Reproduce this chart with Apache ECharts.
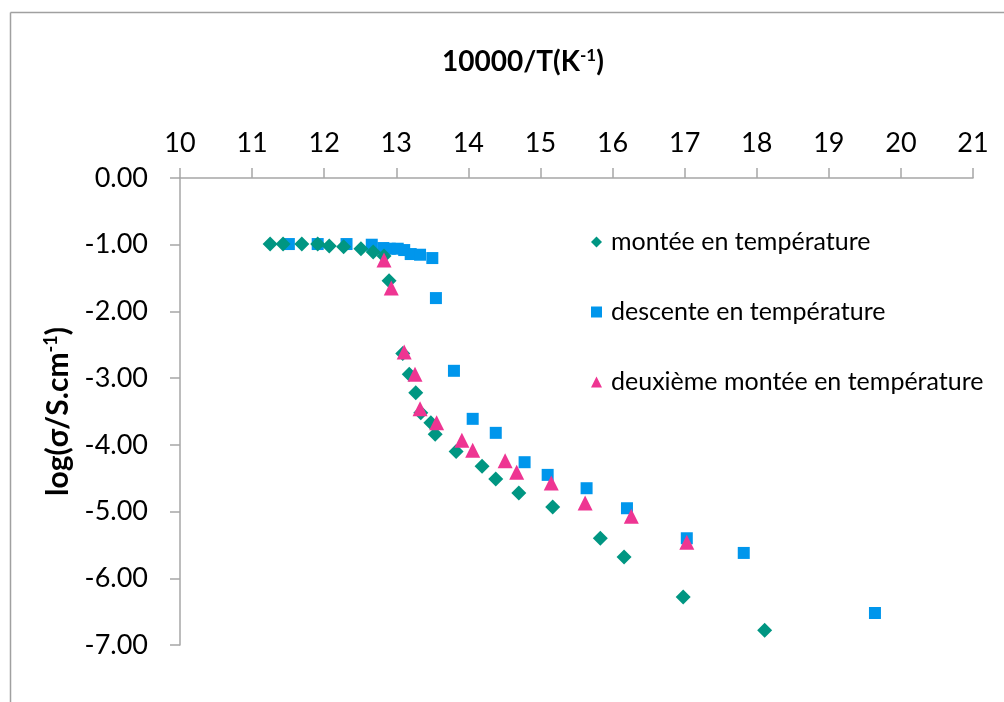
<!DOCTYPE html>
<html>
<head>
<meta charset="utf-8">
<script src="https://cdn.jsdelivr.net/npm/echarts@6/dist/echarts.min.js"></script>
<style>html,body{margin:0;padding:0;background:#fff}#c{width:1004px;height:702px}</style>
</head>
<body>
<div id="c"></div>
<script>
// montée en température (x = 10000/T, y = log sigma)
const monteeX = [11.25, 11.43, 11.69, 11.91, 12.07, 12.27, 12.51, 12.68, 12.83, 12.90, 13.09, 13.18, 13.27, 13.34, 13.48, 13.54, 13.83, 14.19, 14.38, 14.70, 15.17, 15.83, 16.16, 16.98, 18.11];
const monteeY = [-0.99, -0.99, -0.99, -0.99, -1.02, -1.03, -1.06, -1.11, -1.17, -1.54, -2.63, -2.94, -3.22, -3.52, -3.67, -3.84, -4.10, -4.32, -4.51, -4.72, -4.93, -5.40, -5.68, -6.28, -6.78];
// descente en température
const descenteX = [11.51, 11.91, 12.31, 12.66, 12.82, 12.91, 13.02, 13.11, 13.20, 13.33, 13.50, 13.55, 13.80, 14.06, 14.38, 14.78, 15.10, 15.64, 16.20, 17.03, 17.82, 19.64];
const descenteY = [-0.99, -0.99, -0.99, -1.00, -1.05, -1.06, -1.06, -1.08, -1.14, -1.15, -1.20, -1.80, -2.89, -3.61, -3.82, -4.26, -4.45, -4.65, -4.95, -5.40, -5.62, -6.52];
// deuxième montée en température
const deuxiemeX = [12.83, 12.93, 13.11, 13.26, 13.33, 13.56, 13.91, 14.06, 14.51, 14.67, 15.15, 15.62, 16.26, 17.03];
const deuxiemeY = [-1.23, -1.65, -2.61, -2.94, -3.46, -3.67, -3.93, -4.08, -4.24, -4.41, -4.57, -4.87, -5.07, -5.46];

const seriesNames = ['montée en température', 'descente en température', 'deuxième montée en température'];
const xTicks = {min: 10, max: 21, step: 1};
const yTicks = {min: -7, max: 0, step: 1};

const zip = (xs, ys) => xs.map((x, i) => [x, ys[i]]);
const FONT = 'Lato';
const axisColor = '#A6A6A6';

const chart = echarts.init(document.getElementById('c'), null, {renderer: 'canvas'});
chart.setOption({
  animation: false,
  backgroundColor: '#fff',
  textStyle: {fontFamily: FONT},
  graphic: [
    {type: 'line', shape: {x1: 10.5, y1: 12.5, x2: 1004, y2: 12.5}, style: {stroke: '#A0A0A0', lineWidth: 1.5}},
    {type: 'line', shape: {x1: 10.5, y1: 12.5, x2: 10.5, y2: 702}, style: {stroke: '#A0A0A0', lineWidth: 1.5}}
  ],
  title: {
    text: '{b|10000/T(K}{s|-1}{b|)}',
    left: 437,
    top: 42,
    textStyle: {
      rich: {
        b: {fontFamily: FONT, fontSize: 28, fontWeight: 'bold', color: '#000'},
        s: {fontFamily: FONT, fontSize: 17, fontWeight: 'bold', color: '#000', padding: [0, 0, 13, 0]}
      }
    }
  },
  grid: {left: 180, top: 178, right: 31, bottom: 57},
  legend: {
    orient: 'vertical',
    left: 586,
    top: 222,
    itemGap: 40,
    itemWidth: 11,
    itemHeight: 11,
    textStyle: {fontFamily: FONT, fontSize: 25, color: '#000', lineHeight: 30, padding: [0, 0, 0, 4]},
    data: [
      {name: seriesNames[0], icon: 'diamond'},
      {name: seriesNames[1], icon: 'rect'},
      {name: seriesNames[2], icon: 'triangle'}
    ]
  },
  xAxis: {
    type: 'value',
    position: 'top',
    min: xTicks.min, max: xTicks.max, interval: xTicks.step,
    axisLine: {onZero: false, lineStyle: {color: axisColor, width: 1.5}},
    axisTick: {show: true, inside: false, length: 10, lineStyle: {color: axisColor, width: 1.5}},
    axisLabel: {fontFamily: FONT, fontSize: 27, color: '#000', margin: 21},
    splitLine: {show: false}
  },
  yAxis: {
    type: 'value',
    min: yTicks.min, max: yTicks.max, interval: yTicks.step,
    name: '{b|log(σ/S.cm}{s|-1}{b|)}',
    nameLocation: 'middle',
    nameRotate: 90,
    nameGap: 106,
    nameTextStyle: {
      rich: {
        b: {fontFamily: FONT, fontSize: 30, fontWeight: 'bold', color: '#000'},
        s: {fontFamily: FONT, fontSize: 18, fontWeight: 'bold', color: '#000', padding: [0, 0, 14, 0]}
      }
    },
    axisLine: {show: true, onZero: false, lineStyle: {color: axisColor, width: 1.5}},
    axisTick: {show: true, length: 10, lineStyle: {color: axisColor, width: 1.5}},
    axisLabel: {fontFamily: FONT, fontSize: 27, color: '#000', margin: 32, formatter: v => v.toFixed(2)},
    splitLine: {show: false}
  },
  series: [
    {name: seriesNames[0], type: 'scatter', symbol: 'diamond', symbolSize: 15, itemStyle: {color: '#009682', opacity: 1}, data: zip(monteeX, monteeY), z: 3},
    {name: seriesNames[1], type: 'scatter', symbol: 'rect', symbolSize: 12, itemStyle: {color: '#0096EC', opacity: 1}, data: zip(descenteX, descenteY), z: 2},
    {name: seriesNames[2], type: 'scatter', symbol: 'triangle', symbolSize: 15, itemStyle: {color: '#EE3592', opacity: 1}, data: zip(deuxiemeX, deuxiemeY), z: 4}
  ]
});
</script>
</body>
</html>
